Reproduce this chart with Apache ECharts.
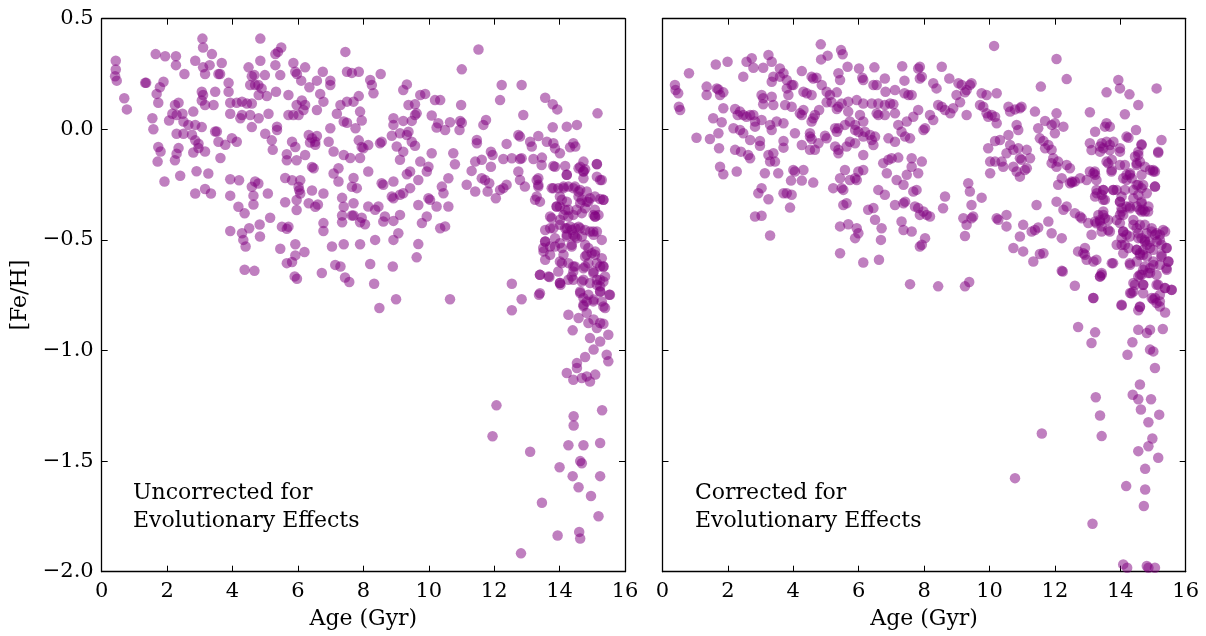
<!DOCTYPE html>
<html>
<head>
<meta charset="utf-8">
<script src="https://cdn.jsdelivr.net/npm/echarts@6/dist/echarts.min.js"></script>
<style>
  html, body { margin: 0; padding: 0; background: #fff; }
  #chart { width: 1206px; height: 636px; }
</style>
</head>
<body>
<div id="chart"></div>
<script>
// age (Gyr) and [Fe/H], one [age, feh] pair per star
const ageTicks = [0, 2, 4, 6, 8, 10, 12, 14, 16];
const fehTicks = [-2.0, -1.5, -1.0, -0.5, 0.0, 0.5];

const uncorrected = [
  [0.43,0.31],[0.43,0.27],[0.41,0.24],[0.46,0.22],[0.69,0.14],[0.77,0.09],
  [1.33,0.21],[1.36,0.21],
  [1.65,0.34],[1.94,0.33],[2.27,0.33],[2.27,0.29],[2.53,0.25],[3.08,0.41],[3.10,0.37],[3.37,0.34],[2.86,0.31],[3.10,0.28],[3.30,0.29],[3.16,0.25],[3.57,0.25],[3.62,0.25],[3.67,0.30],[3.88,0.21],[3.88,0.17],[3.47,0.17],[3.42,0.11],[3.10,0.155],[3.06,0.17],[3.16,0.11],[3.06,0.13],
  [1.89,0.215],[1.78,0.19],[1.68,0.16],[1.73,0.12],[2.24,0.11],[2.35,0.12],[2.16,0.07],[2.29,0.065],[2.47,0.07],[2.50,0.035],[2.06,0.04],[1.55,0.05],[1.58,0.0],[2.29,-0.02],[2.50,-0.02],[2.65,0.02],[2.86,0.02],[3.06,0.01],[2.80,0.08],[2.76,-0.025],[2.86,-0.05],[2.96,-0.065],[2.96,-0.085],[3.16,-0.10],[2.80,-0.105],[2.35,-0.085],[2.29,-0.11],[2.24,-0.14],[2.40,-0.21],[1.73,-0.08],[1.80,-0.10],[1.71,-0.146],[1.92,-0.236],[3.47,-0.01],[3.52,-0.01],[3.57,-0.056],[3.78,-0.07],[3.98,-0.04],[4.13,-0.056],[3.63,-0.13],
  [2.90,-0.19],[3.26,-0.20],[2.86,-0.29],[3.16,-0.27],[3.34,-0.29],[3.93,-0.226],[4.20,-0.23],[3.93,-0.30],[4.59,-0.26],[4.69,-0.236],[4.79,-0.245],[4.64,-0.30],[4.64,-0.34],[5.08,-0.29],[4.18,-0.35],[4.37,-0.38],[5.15,-0.40],[3.93,-0.46],[4.29,-0.47],[4.51,-0.447],[4.33,-0.50],[4.40,-0.53],[4.83,-0.43],[4.84,-0.485],[5.51,-0.44],[5.71,-0.44],[5.66,-0.45],[5.46,-0.54],[5.92,-0.52],[6.20,-0.555],[5.82,-0.60],[5.66,-0.605],[5.92,-0.57],[4.37,-0.635],[4.67,-0.64],
  [4.85,0.41],[5.39,0.35],[5.49,0.37],[5.31,0.34],[4.85,0.31],[5.31,0.29],[5.86,0.30],[4.49,0.28],[4.59,0.24],[4.67,0.245],[4.99,0.245],[4.69,0.20],[4.54,0.20],[4.79,0.20],[4.89,0.185],[5.33,0.17],[5.46,0.245],[5.92,0.26],[5.97,0.25],[6.22,0.28],[6.10,0.22],[6.35,0.19],[6.58,0.22],[6.76,0.26],[6.99,0.22],[6.99,0.20],[7.45,0.35],[7.50,0.26],[7.65,0.255],[7.86,0.26],[6.68,0.16],[6.78,0.125],[5.71,0.155],[6.12,0.13],[5.96,0.11],[6.17,0.087],[6.22,0.11],[6.02,0.065],[5.71,0.065],[5.86,0.065],[6.58,0.087],[7.19,0.07],[7.30,0.11],[7.50,0.125],[7.70,0.125],[7.86,0.15],[7.40,0.035],[7.50,0.03],[7.76,0.005],[7.90,0.08],[7.95,0.04],
  [5.05,0.15],[4.80,0.155],[4.29,0.125],[4.13,0.12],[4.44,0.117],[4.59,0.117],[3.93,0.12],[3.93,0.07],[4.29,0.065],[4.24,0.05],[4.54,0.065],[4.80,0.05],[5.10,0.07],[4.59,0.01],[5.00,-0.02],[5.20,-0.05],[5.36,-0.003],[5.36,0.012],[5.82,-0.056],[5.92,-0.08],[6.33,-0.026],[6.43,-0.04],[6.58,-0.03],[6.53,-0.056],[6.37,-0.06],[6.53,-0.07],[6.94,-0.056],[6.99,0.005],[7.09,-0.10],[7.40,-0.116],[7.60,-0.13],[7.86,-0.05],[7.95,-0.08],[7.90,-0.13],[7.70,-0.22],[7.80,-0.266],[7.70,-0.334],[7.65,-0.39],[7.90,-0.42],[7.90,-0.52],[7.40,-0.52],[7.04,-0.53],[7.30,-0.62],[7.14,-0.613],[6.73,-0.65],
  [5.23,-0.093],[5.66,-0.113],[5.66,-0.14],[5.96,-0.14],[6.43,-0.17],[6.48,-0.176],[6.22,-0.116],[5.61,-0.22],[5.82,-0.23],[6.07,-0.23],[6.02,-0.26],[6.07,-0.29],[6.04,-0.275],[6.43,-0.277],[6.78,-0.29],[7.09,-0.20],[7.24,-0.176],[7.24,-0.236],[7.65,-0.26],[5.61,-0.33],[5.96,-0.32],[5.96,-0.365],[6.33,-0.334],[6.53,-0.35],[6.61,-0.34],[6.78,-0.424],[6.78,-0.46],[7.35,-0.31],[7.40,-0.35],[7.35,-0.39],[7.35,-0.42],[7.70,-0.39],[7.95,-0.40],
  [5.97,-0.676],[5.90,-0.665],[7.44,-0.67],[7.57,-0.69],
  [11.52,0.361],[11.01,0.271],[12.23,0.20],[12.84,0.20],[12.18,0.132],[12.89,0.065],[13.56,0.143],[13.79,0.113],[13.93,0.09],[15.16,0.072],[14.53,0.02],[14.22,0.012],[13.79,0.009],
  [8.53,0.25],[8.21,0.223],[8.26,0.20],[8.31,0.163],
  [9.22,0.178],[9.33,0.203],[9.74,0.155],[9.89,0.16],[10.19,0.132],[10.35,0.132],[9.38,0.11],[9.58,0.113],[9.63,0.072],[9.58,0.065],[10.09,0.062],[10.29,0.027],[10.24,0.008],[10.50,-0.003],[10.65,0.032],[10.96,0.038],[11.01,0.03],[10.94,-0.003],[11.67,0.02],[11.75,0.042],[10.99,0.11],
  [8.92,0.05],[8.92,0.02],[9.22,0.038],[9.48,0.038],[9.38,-0.011],[9.12,-0.018],[9.33,-0.026],[8.87,-0.029],[9.02,-0.078],[9.22,-0.101],[9.12,-0.138],[9.48,-0.056],[9.58,-0.074],[9.74,-0.146],[9.99,-0.169],[9.94,-0.191],[9.43,-0.191],[9.33,-0.203],[9.68,-0.229],[10.09,-0.108],[10.75,-0.108],[10.80,-0.158],[10.60,-0.221],[10.40,-0.259],[10.45,-0.289],[9.99,-0.312],[10.04,-0.319],[10.24,-0.349],[10.60,-0.349],[9.43,-0.266],[9.22,-0.289],[9.12,-0.296],[8.92,-0.312],[8.87,-0.304],
  [8.56,-0.056],[8.51,-0.063],[8.15,-0.071],[8.00,-0.086],[8.15,-0.191],[8.56,-0.244],[8.61,-0.251],[8.92,-0.236],[8.15,-0.349],[8.46,-0.349],[8.36,-0.364],[8.66,-0.394],[8.61,-0.417],[8.92,-0.414],[9.12,-0.387],[9.79,-0.424],[9.94,-0.394],[9.68,-0.342],[8.05,-0.429],[9.07,-0.47],[8.92,-0.50],[8.36,-0.50],[9.68,-0.519],[9.63,-0.579],[10.35,-0.447],[10.50,-0.439],[8.21,-0.609],[8.90,-0.62],
  [11.47,-0.048],[11.47,-0.063],[11.42,-0.146],[11.62,-0.138],[11.31,-0.188],[11.16,-0.251],[11.42,-0.281],[11.62,-0.221],[11.72,-0.229],[11.85,-0.244],[11.80,-0.281],[12.05,-0.312],[12.18,-0.274],[12.28,-0.266],[12.38,-0.251],[11.90,-0.169],[11.90,-0.101],[11.95,-0.116],[12.28,-0.134],[12.54,-0.131],[12.79,-0.134],[12.84,-0.131],[12.38,-0.066],[12.74,-0.026],[12.79,-0.033],[13.10,-0.056],[13.15,-0.078],[13.35,-0.03],[13.20,-0.134],[13.46,-0.128],[13.61,-0.056],[13.81,-0.063],[13.86,-0.086],[14.01,-0.108],[14.42,-0.063],[14.48,-0.078],[14.32,-0.081],[14.73,-0.146],[15.14,-0.158],[14.58,-0.176],[14.73,-0.191],[14.22,-0.206],[13.86,-0.169],[12.74,-0.191],[12.79,-0.229],[12.94,-0.259],[13.30,-0.229],[13.35,-0.259],[13.30,-0.304],[13.76,-0.266],[13.25,-0.319],[15.14,-0.214],[15.29,-0.229],[15.34,-0.319],[15.24,-0.315],
  [13.96,-0.266],[14.12,-0.259],[14.27,-0.259],[14.42,-0.266],[14.63,-0.274],[14.58,-0.304],[14.68,-0.319],[14.83,-0.327],[14.93,-0.312],[14.01,-0.349],[13.91,-0.349],[14.07,-0.319],[14.17,-0.364],[14.12,-0.387],[14.27,-0.394],[14.42,-0.387],[14.68,-0.379],[14.63,-0.334],[15.04,-0.387],[15.09,-0.394],[15.19,-0.387],[13.76,-0.402],[13.71,-0.447],[13.81,-0.447],[14.01,-0.432],[14.22,-0.447],[14.32,-0.439],[14.48,-0.447],[14.63,-0.447],[14.93,-0.462],[15.04,-0.477],[15.14,-0.462],[14.42,-0.477],[14.22,-0.477],[14.53,-0.492],[14.68,-0.485],[14.78,-0.522],[13.56,-0.507],[13.71,-0.53],[14.01,-0.515],[14.37,-0.53],[13.51,-0.552],[13.71,-0.567],[14.12,-0.567],[14.07,-0.605],[14.27,-0.605],[14.42,-0.62],[14.83,-0.567],[14.98,-0.56],[15.09,-0.552],[14.88,-0.605],[15.14,-0.605],[15.24,-0.62],[15.34,-0.62],[13.96,-0.643],[14.42,-0.643],[14.73,-0.628],[15.04,-0.643],[14.73,-0.19],
  [13.45,-0.161],[13.81,-0.166],[14.17,-0.166],[14.63,-0.169],[14.78,-0.181],[15.14,-0.157],[14.22,-0.206],[14.73,-0.221],[15.24,-0.229],[13.35,-0.221],[13.35,-0.251],[13.81,-0.266],[14.12,-0.266],[14.47,-0.259],[14.58,-0.281],[14.83,-0.281],[15.08,-0.304],[15.34,-0.319],[14.88,-0.327],[14.01,-0.304],[14.22,-0.327],[13.40,-0.327],[13.91,-0.349],[14.27,-0.364],[14.52,-0.364],[14.78,-0.357],[15.08,-0.364],[15.08,-0.394],[13.71,-0.394],[14.01,-0.409],[13.56,-0.455],[14.17,-0.447],[14.37,-0.455],[14.58,-0.44],[14.78,-0.455],[15.03,-0.462],[15.29,-0.50],[14.22,-0.485],[14.47,-0.485],[13.86,-0.492],[13.56,-0.507],[13.50,-0.537],[13.86,-0.53],[14.07,-0.537],[14.37,-0.522],[14.88,-0.537],[15.08,-0.567],[14.78,-0.575],[15.29,-0.583],[13.56,-0.59],[14.01,-0.598],[14.47,-0.62],[14.78,-0.62],[15.03,-0.65],[15.34,-0.62],[15.39,-0.665],[15.24,-0.68],[13.40,-0.658],[13.66,-0.665],[14.01,-0.695],[14.37,-0.665],[14.73,-0.68],[15.14,-0.703],[14.63,-0.733],[14.88,-0.748],[15.24,-0.733],[15.54,-0.748],[14.73,-0.793],[15.03,-0.778],[15.34,-0.801],[13.40,-0.741],
  [8.33,-0.698],[8.49,-0.808],[9.00,-0.768],[10.65,-0.768],[12.54,-0.698],[12.84,-0.768],[12.54,-0.818],[13.40,-0.658],[13.69,-0.668],[13.37,-0.748],[14.01,-0.695],[14.03,-0.703],[14.27,-0.838],[14.40,-0.909],[14.63,-0.74],[14.73,-0.763],[14.73,-0.80],[14.83,-0.778],[15.04,-0.77],[15.24,-0.733],[15.29,-0.778],[15.39,-0.808],[15.52,-0.748],[14.58,-0.853],[14.83,-0.83],[14.88,-0.876],[15.04,-0.86],[15.14,-0.898],[15.24,-0.876],[15.34,-0.879],[14.93,-0.944],[15.04,-0.996],[15.24,-0.959],[15.49,-0.929],[15.44,-1.019],[15.49,-1.049],[14.78,-1.029],[14.53,-1.057],[14.53,-1.079],[14.22,-1.102],[14.42,-1.132],[14.68,-1.124],[14.83,-1.117],[14.93,-1.14],[15.09,-1.109],
  [14.27,-0.68],[14.42,-0.68],[14.68,-0.688],[14.93,-0.695],[15.14,-0.68],[15.34,-0.688],[15.24,-0.71],
  [12.07,-1.248],[11.95,-1.388],[13.10,-1.458],[14.43,-1.297],[14.43,-1.339],[15.30,-1.27],[14.27,-1.428],[14.73,-1.428],[15.24,-1.418],[14.63,-1.50],[14.68,-1.51],[14.00,-1.528],[14.40,-1.568],[15.24,-1.568],[14.58,-1.618],[14.96,-1.658],[13.46,-1.688],[15.19,-1.749],[13.94,-1.836],[14.60,-1.82],[14.63,-1.85],[12.82,-1.917]
];

const corrected = [
  [0.38,0.20],[0.40,0.178],[0.48,0.163],[0.50,0.102],[0.54,0.087],[0.81,0.253],[1.04,-0.038],[1.45,-0.044],[1.73,-0.086],[1.76,-0.169],[1.86,-0.203],[2.27,-0.191],[1.63,0.293],[1.99,0.305],[1.35,0.193],[1.35,0.155],[1.66,0.185],[1.76,0.155],[1.86,0.167],[1.71,0.18],[1.86,0.095],[1.55,0.05],[1.81,0.032],[1.71,-0.018],
  [2.22,0.092],[2.37,0.08],[2.47,0.065],[2.30,0.065],[2.57,0.057],[2.68,0.065],[2.78,0.065],[2.83,0.035],[2.47,-0.018],[2.37,-0.003],[2.17,0.005],[2.22,-0.093],[2.40,-0.101],[2.62,-0.116],[2.68,-0.131],[2.68,-0.048],[2.57,0.305],[2.73,0.321],[2.78,0.278],[2.47,0.238],[3.08,0.278],[3.24,0.336],[3.34,0.305],[3.39,0.238],[3.59,0.275],[3.70,0.253],[3.59,0.238],[3.80,0.223],[3.34,0.215],[3.03,0.155],[3.08,0.14],[3.34,0.147],[3.08,0.113],[3.39,0.11],[3.80,0.185],[3.85,0.155],[3.75,0.11],[3.95,0.102],[3.95,0.2],[4.00,0.2],
  [2.83,0.012],[3.03,0.042],[3.34,-0.003],[3.29,0.02],[3.49,0.035],[2.98,-0.053],[2.98,-0.074],[3.24,-0.116],[3.29,-0.146],[3.39,-0.108],[3.44,-0.146],[3.13,-0.199],[3.03,-0.266],[2.93,-0.289],[3.24,-0.316],[2.83,-0.394],[3.03,-0.391],[3.29,-0.48],[3.70,-0.053],[3.70,-0.083],[3.54,-0.199],[3.70,-0.289],[3.80,-0.289],[3.95,-0.296],[3.90,-0.354],[4.00,-0.184],[4.05,-0.191],[4.31,-0.184],[3.93,-0.232],[4.26,-0.232],[4.61,-0.241],[3.70,0.027],[4.05,-0.018],[4.26,-0.071],
  [4.84,0.384],[4.85,0.316],[5.05,0.333],[5.46,0.358],[5.51,0.339],[5.38,0.253],[5.43,0.223],[5.66,0.283],[6.01,0.275],[6.11,0.233],[6.14,0.223],[6.48,0.28],[6.45,0.2],[6.55,0.2],[6.80,0.23],[6.82,0.17],[7.33,0.285],[7.40,0.22],[7.40,0.163],[7.52,0.155],[7.62,0.155],[7.82,0.275],[7.87,0.23],[7.11,0.178],[4.26,0.263],[4.61,0.23],[4.71,0.233],[4.56,0.238],[4.31,0.17],[4.41,0.163],[4.56,0.155],[4.87,0.2],[5.02,0.17],[5.12,0.155],[5.33,0.167],[4.26,0.065],[4.31,0.087],[4.20,0.072],[4.66,0.065],[4.56,0.035],[4.61,0.05],[4.79,0.087],[5.02,0.122],[5.17,0.122],[5.33,0.092],[5.38,0.102],[5.48,0.117],[5.68,0.125],[5.94,0.132],[6.14,0.117],[5.68,0.08],[6.04,0.065],[6.14,0.035],[6.40,0.117],[6.60,0.117],[6.80,0.11],[6.96,0.117],[7.06,0.113],[6.55,0.072],[6.60,0.065],[6.80,0.065],[7.11,0.072],[7.21,0.02],[7.47,0.035],[7.67,0.057],[7.82,0.087],
  [4.51,-0.018],[4.51,-0.033],[4.56,-0.044],[4.77,-0.063],[4.51,-0.093],[4.66,-0.093],[4.97,-0.029],[5.02,-0.041],[5.28,0.005],[5.38,0.005],[5.33,-0.011],[5.58,0.02],[5.73,0.035],[5.89,0.02],[5.89,-0.003],[5.99,-0.011],[5.28,-0.078],[5.38,-0.093],[5.38,-0.108],[5.63,-0.078],[5.73,-0.056],[5.89,-0.063],[6.14,-0.033],[6.19,-0.011],[6.35,-0.026],[6.40,-0.048],[6.45,-0.071],[6.50,-0.033],[6.14,-0.116],[5.99,-0.191],[5.89,-0.221],[5.94,-0.229],[6.14,-0.184],[5.73,-0.229],[5.58,-0.184],[5.43,-0.221],[5.48,-0.266],[5.53,-0.274],[5.22,-0.266],[5.53,-0.342],[5.63,-0.334],[5.43,-0.439],[5.68,-0.429],[5.94,-0.447],[5.99,-0.47],[5.89,-0.492],[6.29,-0.364],[6.45,-0.356],[6.50,-0.409],[6.70,-0.447],[6.68,-0.50],[5.43,-0.56],[6.14,-0.602],[6.62,-0.59],
  [6.75,-0.153],[6.91,-0.138],[7.01,-0.131],[7.21,-0.128],[6.86,-0.199],[7.16,-0.229],[7.37,-0.251],[7.47,-0.206],[7.67,-0.281],[7.77,-0.274],[7.62,-0.169],[7.82,-0.199],[6.60,-0.274],[6.80,-0.296],[7.37,-0.334],[7.42,-0.327],[7.11,-0.342],[7.31,-0.417],[7.37,-0.455],[7.62,-0.462],[7.72,-0.349],[7.82,-0.356],[7.87,-0.387],[7.87,-0.53],[6.91,-0.041],[7.11,-0.056],[7.31,-0.011],[7.42,-0.033],[7.57,-0.041],[7.62,-0.131],[7.93,-0.146],[7.57,-0.70],
  [10.14,0.377],[12.05,0.318],[12.36,0.227],[11.57,0.193],[13.94,0.223],[13.99,0.185],[13.58,0.167],[14.28,0.158],[14.55,0.11],[15.11,0.185],[14.14,0.068],[13.07,0.077],[14.48,-0.003],[14.25,-0.038],[14.65,-0.068],[15.26,-0.048],[15.16,-0.101],
  [7.87,0.283],[7.93,0.238],[8.54,0.283],[8.77,0.23],[8.28,0.208],[8.38,0.185],[9.05,0.208],[9.15,0.20],[9.40,0.20],[9.45,0.208],[9.25,0.167],[9.30,0.178],[8.99,0.155],[9.10,0.122],[8.89,0.095],[8.80,0.072],[8.43,0.11],[8.54,0.102],[8.64,0.087],[8.18,0.065],[8.28,0.042],[7.98,-0.003],[8.03,0.005],[9.30,0.065],
  [9.76,0.163],[9.91,0.155],[10.22,0.163],[9.71,0.11],[9.81,0.102],[9.91,0.072],[9.96,0.057],[10.07,0.065],[10.17,0.057],[10.22,0.027],[10.58,0.102],[10.63,0.08],[10.78,0.09],[10.93,0.095],[10.98,0.102],[10.83,0.02],[10.88,-0.003],[10.58,-0.026],[10.32,-0.048],[10.17,-0.053],[9.96,-0.086],[10.02,-0.146],[10.17,-0.146],[10.37,-0.146],[10.42,-0.169],[10.52,-0.108],[10.63,-0.071],[10.73,-0.093],[10.88,-0.086],[10.93,-0.131],[10.98,-0.138],[11.14,-0.093],[11.24,-0.131],[10.73,-0.169],[10.83,-0.191],[10.93,-0.214],[11.08,-0.184],[11.14,-0.176],[10.02,-0.199],
  [11.39,0.08],[11.49,0.005],[11.70,0.038],[11.90,0.02],[12.00,0.027],[12.05,0.072],[12.00,-0.018],[12.26,0.012],
  [11.54,-0.041],[11.65,-0.053],[11.70,-0.086],[11.80,-0.071],[11.90,-0.093],[11.95,-0.131],[11.90,-0.153],[12.05,-0.169],[12.10,-0.146],[12.36,-0.161],[12.46,-0.176],[12.51,-0.236],[12.46,-0.244],[12.61,-0.236],[12.77,-0.221],[12.97,-0.229],[12.10,-0.251],[12.21,-0.221],[12.53,-0.24],[12.26,-0.364],[12.36,-0.349],[12.61,-0.379],[12.77,-0.394],[12.82,-0.402],[13.07,-0.191],[13.18,-0.199],[13.23,-0.206],[13.28,-0.289],[13.43,-0.296],[13.48,-0.319],[13.23,-0.304],[13.48,-0.274],
  [13.38,-0.078],[13.48,-0.086],[13.43,-0.063],[13.58,-0.056],[13.68,-0.071],[13.79,-0.056],[13.99,-0.086],[13.53,0.012],[13.58,0.027],[13.68,0.012],[13.23,-0.011],[13.07,-0.063],[14.19,-0.033],
  [13.58,-0.146],[13.74,-0.138],[13.74,-0.184],[13.99,-0.161],[14.09,-0.221],[14.19,-0.206],[14.30,-0.199],[14.35,-0.221],[14.50,-0.161],[14.60,-0.146],[14.45,-0.123],[14.55,-0.101],[14.65,-0.071],
  [14.91,-0.184],[15.01,-0.184],[15.06,-0.191],[15.06,-0.259],[14.55,-0.251],[14.65,-0.266],[14.81,-0.289],[14.65,-0.327],[14.50,-0.349],[14.60,-0.364],[14.65,-0.372],[14.75,-0.372],[14.86,-0.349],[14.55,-0.296],[14.40,-0.312],
  [13.79,-0.274],[13.89,-0.274],[14.04,-0.304],[13.99,-0.327],[14.04,-0.372],[14.09,-0.387],[14.19,-0.349],[14.30,-0.357],
  [13.23,-0.417],[13.38,-0.417],[13.43,-0.439],[13.33,-0.387],[13.48,-0.387],[13.53,-0.402],[13.63,-0.41],[13.68,-0.462],[13.43,-0.462],[13.12,-0.477],[13.02,-0.424],
  [13.99,-0.424],[14.09,-0.462],[14.19,-0.477],[14.04,-0.522],[14.14,-0.522],[14.25,-0.537],
  [14.40,-0.432],[14.50,-0.447],[14.55,-0.47],[14.65,-0.492],[14.75,-0.507],[14.81,-0.522],[14.91,-0.537],[15.01,-0.545],[14.81,-0.47],[14.96,-0.462],[15.06,-0.477],[15.11,-0.507],[15.21,-0.477],[15.37,-0.462],[15.26,-0.522],[15.42,-0.537],[15.47,-0.598],[15.26,-0.567],[15.21,-0.612],[15.01,-0.598],[14.91,-0.628],[14.70,-0.635],[14.50,-0.598],[14.30,-0.612],[13.74,-0.605],[13.43,-0.65],[13.18,-0.598],[12.92,-0.567],[12.97,-0.59],[12.87,-0.56],[12.92,-0.537],
  [14.50,-0.545],[14.60,-0.56],[14.70,-0.567],[14.81,-0.575],
  [13.12,-0.094],[13.38,-0.101],[13.68,-0.094],[13.99,-0.101],[14.55,-0.116],[15.16,-0.106],[14.50,-0.154],[14.14,-0.161],[14.75,-0.169],[15.01,-0.191],[13.63,-0.154],[13.73,-0.191],[13.22,-0.191],[13.27,-0.229],[14.29,-0.206],[14.19,-0.229],[14.65,-0.206],[14.50,-0.252],[14.70,-0.252],[15.06,-0.259],[13.27,-0.274],[13.48,-0.274],[13.78,-0.274],[14.14,-0.274],[14.40,-0.274],[13.53,-0.319],[13.99,-0.327],[14.04,-0.357],[14.29,-0.349],[14.65,-0.334],[14.70,-0.364],[14.85,-0.372],[13.48,-0.372],[13.38,-0.41],[13.27,-0.425],[13.63,-0.455],[13.99,-0.387],[13.89,-0.41],[14.40,-0.41],[14.75,-0.432],[14.60,-0.432],[14.96,-0.447],[15.31,-0.455],[15.11,-0.47],[14.09,-0.462],[14.04,-0.492],[13.89,-0.522],[14.29,-0.485],[14.55,-0.492],[14.75,-0.50],[14.90,-0.507],[15.21,-0.50],[15.41,-0.537],[14.50,-0.545],[14.70,-0.545],[14.60,-0.568],[14.09,-0.56],[14.29,-0.605],[15.26,-0.575],[15.47,-0.598],[15.41,-0.628],[14.75,-0.62],[15.01,-0.613],[14.85,-0.65],[14.60,-0.658],[15.11,-0.658],[13.27,-0.59],[13.78,-0.605],[13.38,-0.665],[14.40,-0.695],[14.70,-0.703],[15.11,-0.703],[15.36,-0.718],[15.57,-0.726],[14.34,-0.741],[14.70,-0.741],[15.06,-0.763],[15.21,-0.778],[13.17,-0.763],[14.04,-0.793],[14.60,-0.801],[15.21,-0.801],
  [9.35,-0.244],[9.40,-0.281],[9.45,-0.342],[9.76,-0.309],[9.20,-0.402],[9.30,-0.432],[9.45,-0.402],[9.50,-0.394],[9.25,-0.482],[8.64,-0.304],[8.58,-0.357],[7.98,-0.372],[8.08,-0.387],[8.18,-0.394],[8.03,-0.492],[7.93,-0.522],[10.22,-0.402],[10.27,-0.409],[10.52,-0.387],[10.52,-0.439],[11.03,-0.432],[10.93,-0.485],[11.29,-0.462],[11.39,-0.455],[11.49,-0.444],[11.80,-0.417],[11.90,-0.47],[12.21,-0.492],[10.73,-0.537],[11.03,-0.552],[11.34,-0.598],[11.54,-0.564],[11.65,-0.56],[12.21,-0.64],[11.44,-0.342],[12.05,-0.327],[12.71,-0.552],
  [8.43,-0.71],[9.25,-0.71],[9.38,-0.69],[12.24,-0.643],[12.61,-0.707],[13.38,-0.666],[13.43,-0.658],[13.18,-0.763],[14.04,-0.796],[12.71,-0.894],[13.23,-0.918],[13.12,-0.966],[14.22,-1.019],[14.37,-0.963],[14.55,-0.818],[14.60,-0.803],[14.55,-0.906],[14.81,-0.921],[14.91,-0.906],[14.91,-0.996],[15.01,-1.004],[15.06,-1.079],[15.30,-0.903],[15.37,-0.828],
  [14.30,-0.74],[14.40,-0.733],[14.45,-0.703],[14.55,-0.665],[14.65,-0.658],[14.70,-0.703],[14.91,-0.65],[14.96,-0.763],[15.01,-0.77],[15.11,-0.785],[15.16,-0.703],[15.21,-0.748],[15.37,-0.718],[15.57,-0.725],[15.42,-0.635],
  [14.60,-1.154],[14.38,-1.20],[14.55,-1.22],[14.94,-1.22],[14.63,-1.267],[15.19,-1.29],[14.86,-1.324],[14.98,-1.398],[14.86,-1.433],[14.55,-1.455],[15.16,-1.485],[14.76,-1.535],[14.76,-1.628],[14.72,-1.703],[14.18,-1.613],
  [13.25,-1.211],[13.38,-1.294],[13.43,-1.387],[11.60,-1.375],[10.78,-1.577],[13.15,-1.783],
  [14.09,-1.967],[14.21,-1.982],[14.81,-1.974],[14.86,-1.982],[15.06,-1.982]
];

const panelNotes = ['Uncorrected for\nEvolutionary Effects', 'Corrected for\nEvolutionary Effects'];

const FONT = '"DejaVu Serif", "Liberation Serif", serif';
const minus = v => v.toFixed(1).replace('-', '\u2212');

const chart = echarts.init(document.getElementById('chart'), null, { renderer: 'canvas' });

function xAxes(gi) {
  const base = {
    type: 'value', gridIndex: gi, min: ageTicks[0], max: ageTicks[ageTicks.length - 1], interval: 2,
    splitLine: { show: false },
    axisLine: { onZero: false, lineStyle: { color: '#000', width: 1.3 } },
    axisTick: { inside: true, length: 6, lineStyle: { color: '#000', width: 1 } }
  };
  return [
    Object.assign({}, base, {
      position: 'bottom',
      axisLabel: { color: '#000', fontFamily: FONT, fontSize: 21, margin: 9 },
      name: 'Age (Gyr)', nameLocation: 'middle', nameGap: 37,
      nameTextStyle: { color: '#000', fontFamily: FONT, fontSize: 22 }
    }),
    Object.assign({}, base, { position: 'top', axisLabel: { show: false } })
  ];
}

function yAxes(gi, labels) {
  const base = {
    type: 'value', gridIndex: gi, min: fehTicks[0], max: fehTicks[fehTicks.length - 1], interval: 0.5,
    splitLine: { show: false },
    axisLine: { onZero: false, lineStyle: { color: '#000', width: 1.3 } },
    axisTick: { inside: true, length: 6, lineStyle: { color: '#000', width: 1 } }
  };
  const left = Object.assign({}, base, {
    position: 'left',
    axisLabel: { show: labels, color: '#000', fontFamily: FONT, fontSize: 21, margin: 8, formatter: minus }
  });
  if (labels) {
    Object.assign(left, {
      name: '[Fe/H]', nameLocation: 'middle', nameGap: 70, nameRotate: 90,
      nameTextStyle: { color: '#000', fontFamily: FONT, fontSize: 22 }
    });
  }
  return [left, Object.assign({}, base, { position: 'right', axisLabel: { show: false } })];
}

const pointStyle = {
  type: 'scatter', symbol: 'circle', symbolSize: 10.5,
  itemStyle: { color: '#800080', opacity: 0.5, borderWidth: 0 }
};

chart.setOption({
  animation: false,
  backgroundColor: '#fff',
  grid: [
    { left: 101.7, top: 18.7, width: 523.3, height: 553 },
    { left: 662.5, top: 18.7, width: 523.2, height: 553 }
  ],
  xAxis: [...xAxes(0), ...xAxes(1)],
  yAxis: [...yAxes(0, true), ...yAxes(1, false)],
  series: [
    Object.assign({}, pointStyle, { name: 'uncorrected', xAxisIndex: 0, yAxisIndex: 0, data: uncorrected }),
    Object.assign({}, pointStyle, { name: 'corrected', xAxisIndex: 2, yAxisIndex: 2, data: corrected })
  ],
  graphic: [
    { type: 'text', left: 133, top: 479, style: { text: panelNotes[0], font: '22px ' + FONT, fill: '#000', lineHeight: 28 } },
    { type: 'text', left: 695, top: 479, style: { text: panelNotes[1], font: '22px ' + FONT, fill: '#000', lineHeight: 28 } }
  ]
});
</script>
</body>
</html>
